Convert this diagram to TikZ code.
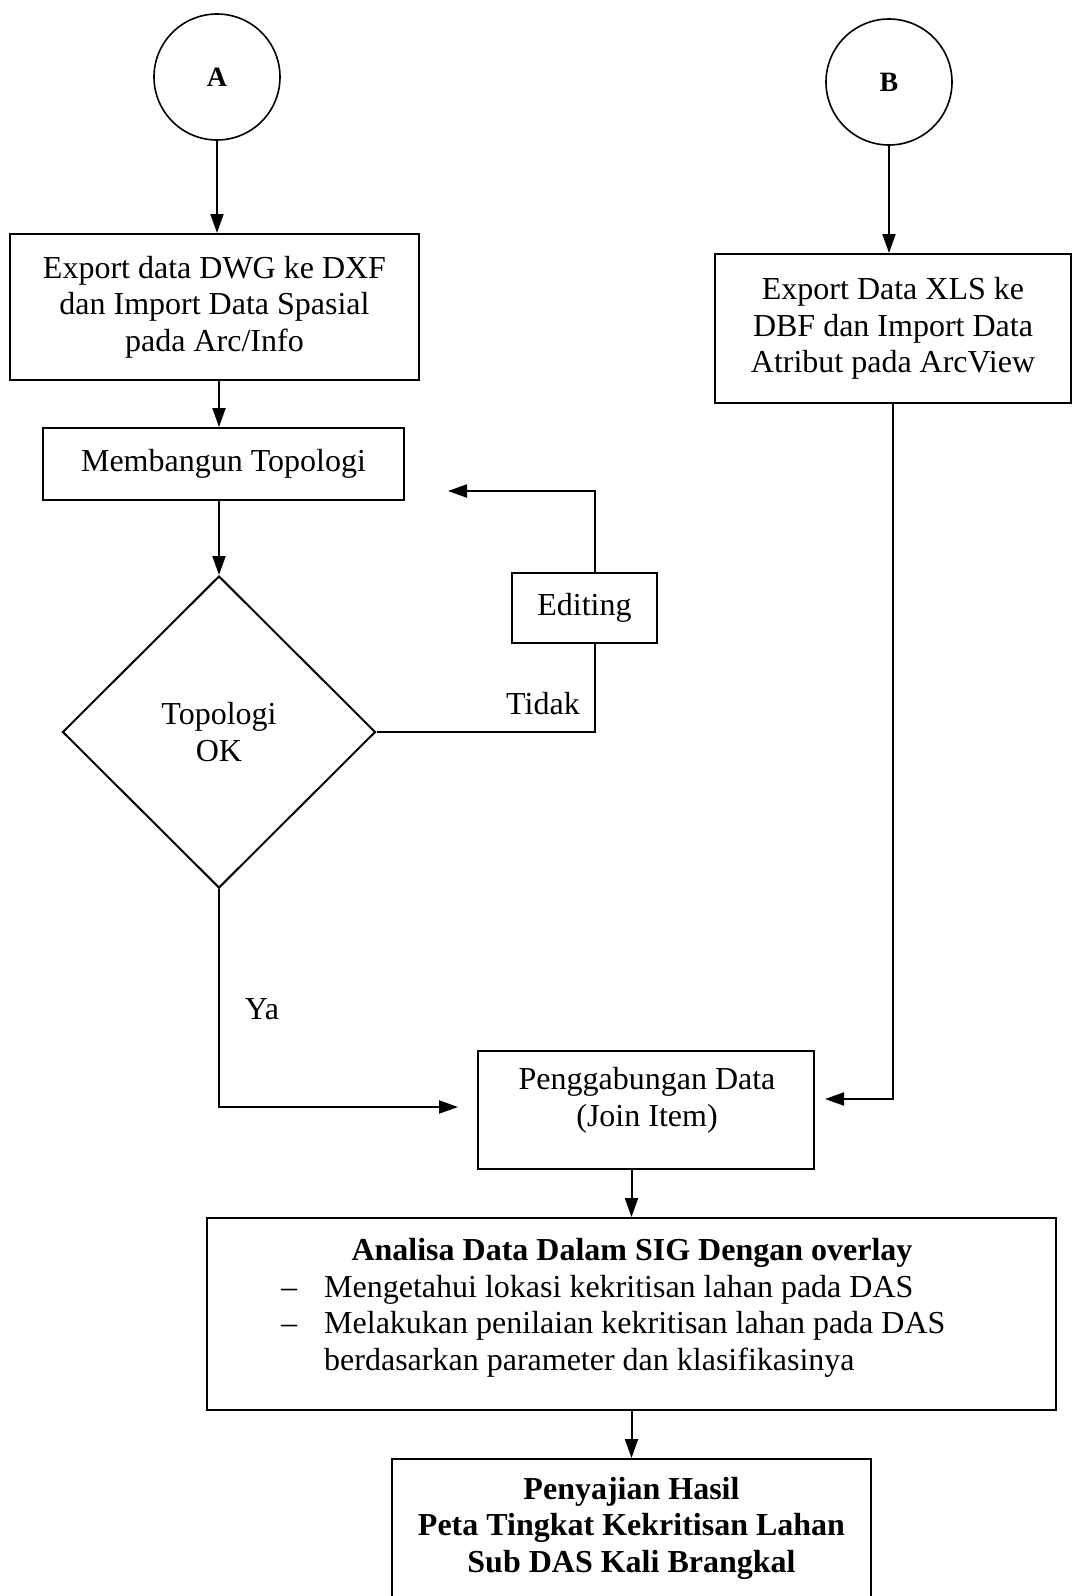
\documentclass[tikz,border=0pt]{standalone}
\usepackage{fontspec}
\setmainfont{Liberation Serif}
\usetikzlibrary{shapes.geometric,arrows.meta}
\begin{document}
\begin{tikzpicture}[x=1pt,y=-1pt,
  font=\fontsize{32}{36.6}\selectfont,
  box/.style={draw,line width=2pt,inner sep=0pt,align=center},
  conn/.style={draw,line width=1.6pt,circle,inner sep=0pt,minimum size=126pt,font=\fontsize{28}{32}\selectfont\bfseries},
  flow/.style={line width=2pt,-{Triangle[length=19pt,width=13pt]}},
  link/.style={line width=2pt},
  lbl/.style={inner sep=0pt}
]
\fill[white] (0,0) rectangle (1072,1596);
\useasboundingbox (0,0) rectangle (1072,1596);
\clip (0,0) rectangle (1072,1596);

% connectors A and B
\node[conn] (A) at (217,77) {A};
\node[conn] (B) at (889,82) {B};

% left branch: spatial data
\node[box, minimum width=409pt, minimum height=146pt] (ex1) at (214.5,307)
  {Export data DWG ke DXF\\dan Import Data Spasial\\pada Arc/Info};
\node[box, minimum width=361pt, minimum height=72pt] (mb) at (223.5,464)
  {Membangun Topologi};
\node[draw, diamond, line width=2pt, inner sep=0pt, minimum width=313pt,
  minimum height=312pt, align=center] (D) at (219,732) {Topologi\\OK};
\node[box, minimum width=145pt, minimum height=70pt] (ed) at (584.5,608)
  {Editing};

% right branch: attribute data
\node[box, minimum width=356pt, minimum height=149pt] (exB) at (893,328.5)
  {Export Data XLS ke\\DBF dan Import Data\\Atribut pada ArcView};

% join
\node[box, minimum width=336pt, minimum height=118pt] (pg) at (646,1110) {};
\node[lbl, align=center] (pgt) at (647,1100) {Penggabungan Data\\(Join Item)};

% analysis
\node[box, minimum width=849pt, minimum height=192pt] (an) at (631.5,1314) {};
\node[lbl, anchor=base] (ant) at (632,1260) {\bfseries Analisa Data Dalam SIG Dengan overlay};
\node[lbl, anchor=base west] (d1) at (281,1297) {--};
\node[lbl, anchor=base west] (d2) at (281,1333) {--};
\node[lbl, anchor=base west] (l1) at (324,1297) {Mengetahui lokasi kekritisan lahan pada DAS};
\node[lbl, anchor=base west] (l2) at (324,1333) {Melakukan penilaian kekritisan lahan pada DAS};
\node[lbl, anchor=base west] (l3) at (324,1370) {berdasarkan parameter dan klasifikasinya};

% result
\node[box, anchor=north, minimum width=479pt, inner ysep=18pt, font=\fontsize{32}{36.6}\selectfont\bfseries] (pj) at (631.5,1458)
  {Penyajian Hasil\\Peta Tingkat Kekritisan Lahan\\Sub DAS Kali Brangkal};

% free ends and bend positions
\coordinate (edx) at (595,0);
\coordinate (back) at (448,491);
\coordinate (yaend) at (458,1107);
\coordinate (bend) at (825,1099);

% flow lines
\draw[flow] (A) -- (A |- ex1.north);
\draw[flow] (B) -- (B |- exB.north);
\draw[flow] (ex1.south -| D.north) -- (mb.north -| D.north);
\draw[flow] (mb.south -| D.north) -- (D.north);
\draw[link] (D.east) -| (ed.south -| edx);
\draw[flow] (ed.north -| edx) |- (back);
\draw[flow] (D.south) |- (yaend);
\draw[flow] (exB.south) |- (bend);
\draw[flow] (an.north |- pg.south) -- (an.north);
\draw[flow] (an.south) -- (pj.north);

% branch labels
\node[lbl] (tidak) at (543,704) {Tidak};
\node[lbl] (ya) at (262,1009) {Ya};
\end{tikzpicture}
\end{document}
